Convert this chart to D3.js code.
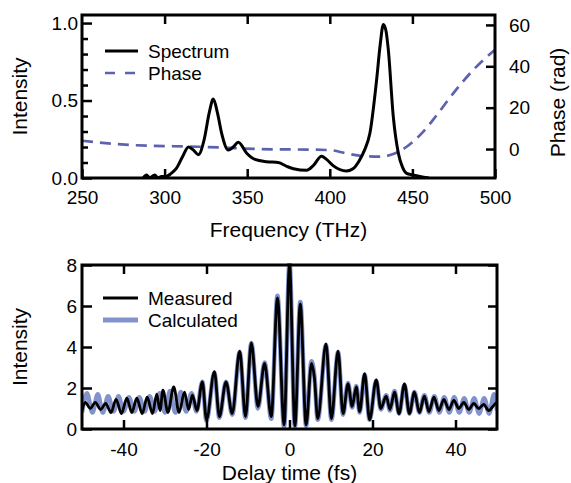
<!DOCTYPE html>
<html>
<head>
<style>
  body { margin: 0; background: #fff; }
  svg text { font-family: "Liberation Sans", Arial, sans-serif; fill: #000; }
</style>
</head>
<body>
<script src="https://cdn.jsdelivr.net/npm/d3@7"></script>
<script>
// ---- top panel data (frequency in THz) ----
const specFreq = [287, 289, 291, 294, 296, 298, 301, 304, 307, 311, 314.4, 317.5, 320.4, 324, 327, 329.5, 332, 334.5, 338.6, 341.5, 344.6, 349.7, 354.7, 361.8, 368.8, 374, 378, 386, 390, 395, 398, 402, 410, 414, 418, 421, 424.3, 428.3, 430.5, 432.4, 434, 435.4, 438.4, 441.5, 444, 446.5, 450, 454.6, 460];
const specInt  = [0, 0.02, 0, 0.02, 0, 0.01, 0.01, 0.03, 0.06, 0.14, 0.20, 0.18, 0.15, 0.25, 0.42, 0.51, 0.42, 0.29, 0.18, 0.20, 0.23, 0.16, 0.12, 0.105, 0.10, 0.075, 0.06, 0.05, 0.08, 0.14, 0.12, 0.08, 0.045, 0.06, 0.115, 0.18, 0.29, 0.63, 0.86, 0.99, 0.95, 0.83, 0.40, 0.16, 0.07, 0.03, 0.02, 0.01, 0];

const phaseFreq = [250, 281, 321, 371, 376, 400, 410, 420, 430, 438.4, 446.5, 456.6, 464.7, 474.7, 486.8, 500];
const phaseRad  = [4.0, 1.9, 1.1, -0.2, -0.2, -0.5, -2.1, -3.4, -3.7, -2.4, 1.1, 8.4, 16.4, 26.9, 38.2, 48.0];

const freqTicks = [250, 300, 350, 400, 450, 500];
const intTicksTop = [0, 0.5, 1.0];
const phaseTicks = [0, 20, 40, 60];

// ---- bottom panel data (delay in fs) ----
const measT = [-50, -49.2, -48.0, -46.8, -45.5, -44.3, -43.0, -41.8, -40.5, -39.2, -38.0, -36.8, -35.5, -34.3, -33.0, -32.0, -31.2, -30.5, -29.3, -27.9, -26.6, -25.3, -24.3, -23.4, -22.3, -21.0, -20.0, -18.1, -16.9, -15.3, -13.8, -12.0, -10.6, -9.2, -7.6, -6.0, -4.4, -2.9, -1.3, 0, 1.3, 2.6, 4.0, 5.3, 6.0, 6.8, 8.8, 10.1, 11.7, 12.9, 14.1, 15.1, 16.1, 16.9, 18.1, 19.3, 20.9, 22.0, 23.3, 24.2, 25.3, 26.4, 27.7, 28.9, 30.1, 31.3, 32.5, 33.6, 34.8, 36.0, 37.2, 38.4, 39.6, 40.8, 42.0, 43.2, 44.4, 45.6, 46.8, 48.0, 49.2, 50];
const measI = [0.9, 1.3, 1.0, 1.3, 0.95, 1.25, 0.8, 1.45, 0.75, 1.5, 0.8, 1.5, 0.75, 1.55, 0.75, 1.7, 0.9, 1.9, 0.8, 2.05, 0.8, 1.8, 0.95, 1.65, 0.9, 2.3, 0.45, 2.8, 0.6, 2.3, 0.75, 3.8, 0.6, 4.2, 1.1, 3.2, 0.6, 6.4, 0.2, 8.0, 0.15, 6.1, 0.2, 3.2, 2.5, 0.5, 4.15, 0.5, 3.8, 0.75, 2.2, 1.1, 2.05, 0.85, 2.7, 0.45, 2.4, 1.0, 1.6, 0.95, 1.8, 0.75, 2.2, 0.75, 1.8, 0.8, 1.6, 0.85, 1.55, 0.9, 1.45, 0.95, 1.4, 1.0, 1.3, 0.95, 1.25, 1.0, 1.2, 0.9, 1.15, 1.3];

const calcT = [-50, -48.8, -47.5, -46.2, -45.0, -43.7, -42.4, -41.2, -40.0, -38.7, -37.4, -36.2, -34.9, -33.7, -32.5, -31.3, -30.0, -28.8, -27.5, -26.2, -24.9, -23.6, -22.4, -21.0, -20.0, -18.1, -16.9, -15.3, -13.8, -12.0, -10.6, -9.2, -7.6, -6.0, -4.4, -2.9, -1.3, 0, 1.3, 2.6, 4.0, 5.3, 6.0, 6.8, 8.8, 10.1, 11.7, 12.9, 14.1, 15.1, 16.1, 16.9, 18.1, 19.3, 20.9, 22.0, 23.3, 24.2, 25.3, 26.4, 27.7, 28.9, 30.1, 31.3, 32.5, 33.7, 34.9, 36.1, 37.3, 38.5, 39.7, 40.9, 42.1, 43.3, 44.5, 45.7, 46.9, 48.1, 49.3, 50];
const calcI = [0.8, 1.75, 0.8, 1.7, 0.8, 1.6, 0.85, 1.6, 0.85, 1.55, 0.85, 1.55, 0.85, 1.6, 0.85, 1.75, 0.8, 1.85, 0.8, 1.8, 0.85, 1.75, 0.85, 2.3, 0.4, 2.75, 0.55, 2.3, 0.7, 3.75, 0.55, 4.2, 1.0, 3.25, 0.5, 6.5, 0.1, 8.1, 0.1, 6.2, 0.15, 3.3, 2.6, 0.45, 4.1, 0.45, 3.75, 0.7, 2.25, 1.05, 2.1, 0.8, 2.65, 0.45, 2.35, 0.95, 1.65, 0.9, 1.85, 0.75, 2.15, 0.75, 1.8, 0.8, 1.65, 0.8, 1.6, 0.8, 1.55, 0.8, 1.55, 0.8, 1.5, 0.8, 1.5, 0.75, 1.5, 0.75, 1.7, 0.9];

const delayTicks = [-40, -20, 0, 20, 40];
const intTicksBot = [0, 2, 4, 6, 8];

const W = 571, H = 483;
const svg = d3.select("body").append("svg").attr("width", W).attr("height", H);

const phaseColor = "#5c62ae";
const calcColor = "#8292cb";

// ---------------- top panel ----------------
const t = { l: 82, r: 495, t: 15, b: 178 };
const xF = d3.scaleLinear().domain([250, 500]).range([t.l, t.r]);
const yS = d3.scaleLinear().domain([0, 1.052]).range([t.b, t.t]);
const yP = d3.scaleLinear().domain([-14, 64.8]).range([t.b, t.t]);

svg.append("clipPath").attr("id", "clipTop").append("rect")
  .attr("x", t.l).attr("y", t.t).attr("width", t.r - t.l).attr("height", t.b - t.t);

const gTop = svg.append("g").attr("clip-path", "url(#clipTop)");
gTop.append("path")
  .datum(phaseFreq.map((f, i) => [f, phaseRad[i]]))
  .attr("fill", "none").attr("stroke", phaseColor).attr("stroke-width", 2.7)
  .attr("stroke-dasharray", "11,7")
  .attr("d", d3.line().x(d => xF(d[0])).y(d => yP(d[1])).curve(d3.curveMonotoneX));
gTop.append("path")
  .datum(specFreq.map((f, i) => [f, specInt[i]]))
  .attr("fill", "none").attr("stroke", "#000").attr("stroke-width", 3)
  .attr("d", d3.line().x(d => xF(d[0])).y(d => yS(d[1])).curve(d3.curveMonotoneX));

function styleAxis(g, size) {
  g.select(".domain").remove();
  g.selectAll(".tick line").attr("stroke", "#000").attr("stroke-width", 2.5);
  g.selectAll(".tick text").attr("font-size", size).attr("font-family", "Liberation Sans, Arial, sans-serif");
}

// bottom x axis (ticks inward)
svg.append("g").attr("transform", `translate(0,${t.b})`)
  .call(d3.axisBottom(xF).tickValues(freqTicks).tickFormat(d3.format("d")).tickSizeInner(-9).tickSizeOuter(0).tickPadding(13))
  .call(g => styleAxis(g, 19));
svg.append("g").attr("transform", `translate(0,${t.t})`)
  .call(d3.axisTop(xF).tickValues(freqTicks.slice(1, -1)).tickSizeInner(-9).tickSizeOuter(0).tickFormat(""))
  .call(g => styleAxis(g, 19));
// left minor ticks
svg.append("g").attr("transform", `translate(${t.l},0)`)
  .call(d3.axisLeft(yS).tickValues(d3.range(1, 10).filter(v => v !== 5).map(v => v / 10)).tickSizeInner(-6).tickSizeOuter(0).tickFormat(""))
  .call(g => styleAxis(g, 19));
svg.append("g").attr("transform", `translate(${t.l},0)`)
  .call(d3.axisLeft(yS).tickValues(intTicksTop).tickFormat(d3.format(".1f")).tickSizeInner(-10).tickSizeOuter(0).tickPadding(4))
  .call(g => styleAxis(g, 19));
svg.append("g").attr("transform", `translate(${t.r},0)`)
  .call(d3.axisRight(yP).tickValues(phaseTicks).tickFormat(d3.format("d")).tickSizeInner(-9).tickSizeOuter(0).tickPadding(14))
  .call(g => styleAxis(g, 19));

svg.append("rect").attr("x", t.l).attr("y", t.t).attr("width", t.r - t.l).attr("height", t.b - t.t)
  .attr("fill", "none").attr("stroke", "#000").attr("stroke-width", 3);

svg.append("text").attr("x", (t.l + t.r) / 2).attr("y", 237).attr("text-anchor", "middle")
  .attr("font-size", 21).text("Frequency (THz)");
svg.append("text").attr("transform", `translate(27,${(t.t + t.b) / 2}) rotate(-90)`)
  .attr("text-anchor", "middle").attr("font-size", 21).text("Intensity");
svg.append("text").attr("transform", `translate(565,${(t.t + t.b) / 2 + 6}) rotate(-90)`)
  .attr("text-anchor", "middle").attr("font-size", 21).text("Phase (rad)");

// top legend
const legTop = [
  { label: "Spectrum", color: "#000", dash: null, w: 3, y: 51 },
  { label: "Phase", color: phaseColor, dash: "10,10", w: 2.7, y: 73 }
];
legTop.forEach(d => {
  svg.append("line").attr("x1", 105).attr("x2", 138).attr("y1", d.y).attr("y2", d.y)
    .attr("stroke", d.color).attr("stroke-width", d.w).attr("stroke-dasharray", d.dash);
  svg.append("text").attr("x", 148).attr("y", d.y + 7).attr("font-size", 19).text(d.label);
});

// ---------------- bottom panel ----------------
const b = { l: 82, r: 497, t: 265, b: 429 };
const xT = d3.scaleLinear().domain([-50, 50]).range([b.l, b.r]);
const yI = d3.scaleLinear().domain([0, 8]).range([b.b, b.t]);

svg.append("clipPath").attr("id", "clipBot").append("rect")
  .attr("x", b.l).attr("y", b.t - 2).attr("width", b.r - b.l).attr("height", b.b - b.t + 2);

const gBot = svg.append("g").attr("clip-path", "url(#clipBot)");
const lineT = d3.line().x(d => xT(d[0])).y(d => yI(d[1])).curve(d3.curveMonotoneX);
gBot.append("path")
  .datum(calcT.map((v, i) => [v, calcI[i]]))
  .attr("fill", "none").attr("stroke", calcColor).attr("stroke-width", 4.5).attr("d", lineT);
gBot.append("path")
  .datum(measT.map((v, i) => [v, measI[i]]))
  .attr("fill", "none").attr("stroke", "#000").attr("stroke-width", 2.8).attr("d", lineT);

svg.append("g").attr("transform", `translate(0,${b.b})`)
  .call(d3.axisBottom(xT).tickValues(delayTicks).tickFormat(d => d < 0 ? "-" + Math.abs(d) : d).tickSizeInner(-9).tickSizeOuter(0).tickPadding(14))
  .call(g => styleAxis(g, 19));
svg.append("g").attr("transform", `translate(0,${b.t})`)
  .call(d3.axisTop(xT).tickValues(delayTicks).tickSizeInner(-9).tickSizeOuter(0).tickFormat(""))
  .call(g => styleAxis(g, 19));
svg.append("g").attr("transform", `translate(${b.l},0)`)
  .call(d3.axisLeft(yI).tickValues(intTicksBot).tickFormat(d3.format("d")).tickSizeInner(-10).tickSizeOuter(0).tickPadding(5))
  .call(g => styleAxis(g, 19));
svg.append("g").attr("transform", `translate(${b.r},0)`)
  .call(d3.axisRight(yI).tickValues(intTicksBot).tickSizeInner(-9).tickSizeOuter(0).tickFormat(""))
  .call(g => styleAxis(g, 19));

svg.append("rect").attr("x", b.l).attr("y", b.t).attr("width", b.r - b.l).attr("height", b.b - b.t)
  .attr("fill", "none").attr("stroke", "#000").attr("stroke-width", 3);

svg.append("text").attr("x", (b.l + b.r) / 2).attr("y", 480).attr("text-anchor", "middle")
  .attr("font-size", 21).text("Delay time (fs)");
svg.append("text").attr("transform", `translate(27,${(b.t + b.b) / 2}) rotate(-90)`)
  .attr("text-anchor", "middle").attr("font-size", 21).text("Intensity");

const legBot = [
  { label: "Measured", color: "#000", w: 3, y: 298 },
  { label: "Calculated", color: calcColor, w: 5, y: 320 }
];
legBot.forEach(d => {
  svg.append("line").attr("x1", 103).attr("x2", 138).attr("y1", d.y).attr("y2", d.y)
    .attr("stroke", d.color).attr("stroke-width", d.w);
  svg.append("text").attr("x", 148).attr("y", d.y + 7).attr("font-size", 19).text(d.label);
});
</script>
</body>
</html>
